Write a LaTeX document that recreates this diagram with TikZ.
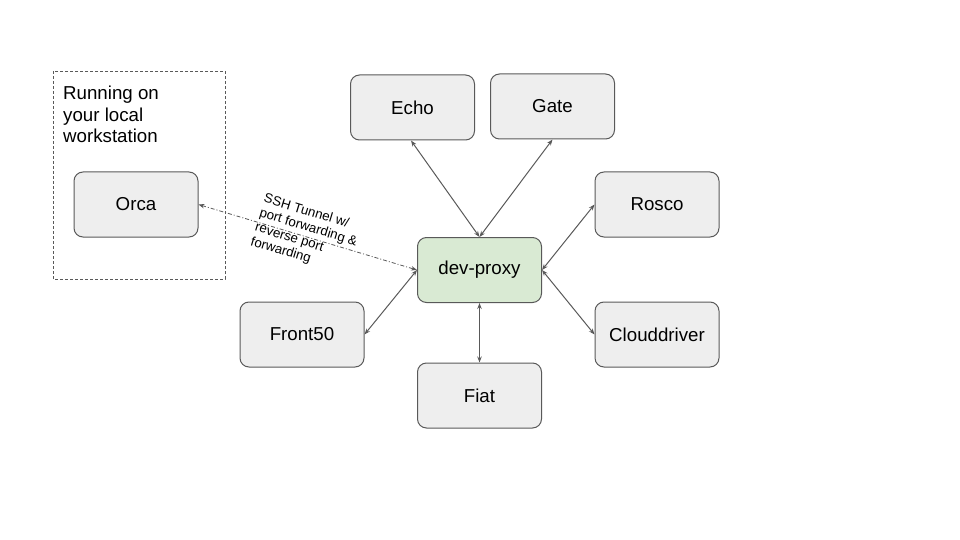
\documentclass[tikz,border=0pt]{standalone}
\usepackage{fontspec}
\setmainfont{Liberation Sans}
\usetikzlibrary{arrows.meta}
\definecolor{boxfill}{HTML}{EEEEEE}
\definecolor{proxyfill}{HTML}{D9EAD3}
\definecolor{edge}{HTML}{595959}
\tikzset{
  svc/.style={draw=edge, line width=1pt, rounded corners=9pt, fill=boxfill,
    minimum width=124pt, minimum height=65pt, inner sep=0pt,
    font=\fontsize{18.7}{22}\selectfont},
  link/.style={draw=edge, line width=1pt,
    {Stealth[length=6pt,width=4.5pt]}-{Stealth[length=6pt,width=4.5pt]}},
}
\begin{document}
\begin{tikzpicture}[x=1pt,y=-1pt]
\useasboundingbox (0,0) rectangle (960,540);
% local workstation frame
\draw[edge, line width=0.8pt, dash pattern=on 3pt off 2pt] (53,71) rectangle (225,279);
\node[anchor=north west, align=left, inner sep=0pt, font=\fontsize{18.7}{21.5}\selectfont] (title) at (63,86)
  {Running on\\your local\\workstation};
% services
\node[svc] (orca) at (136,204.5) {Orca};
\node[svc] (echo) at (412.5,107.5) {Echo};
\node[svc] (gate) at (552.5,106.5) {Gate};
\node[svc] (rosco) at (657,204.5) {Rosco};
\node[svc, fill=proxyfill] (proxy) at (479.5,270) {dev-proxy};
\node[svc] (front) at (302,334.5) {Front50};
\node[svc] (cloud) at (657,334.5) {Clouddriver};
\node[svc] (fiat) at (479.5,395.5) {Fiat};
% connectors
\coordinate (e1) at ([xshift=-1.5pt]echo.south);
\draw[link] (e1) -- (proxy.north);
\draw[link] (gate.south) -- (proxy.north);
\draw[link] (rosco.west) -- (proxy.east);
\draw[link] (cloud.west) -- (proxy.east);
\draw[link] (front.east) -- (proxy.west);
\draw[link] (fiat.north) -- (proxy.south);
\draw[link, dash pattern=on 4pt off 2pt on 1pt off 2pt, line width=0.8pt] (orca.east) -- (proxy.west);
\node[rotate=-17, align=left, inner sep=0pt, font=\fontsize{13.3}{15}\selectfont] (ssh) at (306,235)
  {SSH Tunnel w/\\port forwarding \&\\reverse port\\forwarding};
\end{tikzpicture}
\end{document}
